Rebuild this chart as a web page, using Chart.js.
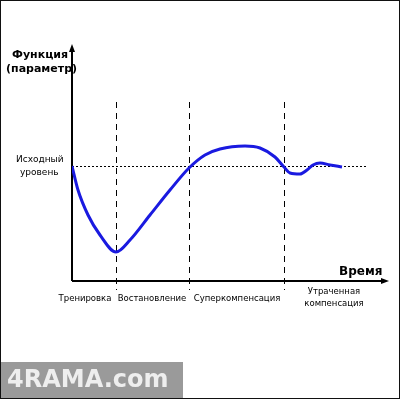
<!DOCTYPE html>
<html><head><meta charset="utf-8">
<script src="https://cdn.jsdelivr.net/npm/chart.js@4"></script>
<style>html,body{margin:0;padding:0;background:#fff}#wrap{width:400px;height:400px;position:relative}</style>
</head><body><div id="wrap"><canvas id="c"></canvas></div>
<script>
// time units and function level
const timeX = [0, 6, 16, 28, 44, 58, 78, 98, 117, 133, 148, 173, 188, 203, 212, 218, 228, 235, 241, 248, 258, 270];
const levelY = [115, 91, 66, 46, 29, 41, 66, 91, 113, 126, 132, 135, 133, 124, 114, 108, 107, 111, 116, 118, 116, 114];
const baseLevel = 115;
const baseEnd = 295;
const phaseLines = [44, 117, 212];
const phaseLabels = [['Тренировка'], ['Востановление'], ['Суперкомпенсация'], ['Утраченная', 'компенсация']];
const phaseLabelX = [13, 80, 165, 262];

const deco = {
  id: 'deco',
  beforeDraw(ch) {
    const c = ch.ctx, x = ch.scales.x, y = ch.scales.y;
    c.save();
    c.fillStyle = '#fff'; c.fillRect(0, 0, 400, 400);
    // baseline dotted
    c.strokeStyle = '#000'; c.lineWidth = 1;
    c.setLineDash([2, 2]);
    c.beginPath(); c.moveTo(x.getPixelForValue(0), y.getPixelForValue(baseLevel) + .5);
    c.lineTo(x.getPixelForValue(baseEnd), y.getPixelForValue(baseLevel) + .5); c.stroke();
    c.setLineDash([6, 5]);
    phaseLines.forEach(v => {
      const px = Math.round(x.getPixelForValue(v)) + .5;
      c.beginPath(); c.moveTo(px, 102); c.lineTo(px, 290); c.stroke();
    });
    c.setLineDash([]);
    // axes with arrows
    const x0 = x.getPixelForValue(0), y0 = y.getPixelForValue(0);
    c.lineWidth = 2;
    c.beginPath(); c.moveTo(x0, y0); c.lineTo(x0, 48); c.moveTo(x0, y0); c.lineTo(385, y0); c.stroke();
    c.fillStyle = '#000';
    c.beginPath(); c.moveTo(x0, 44); c.lineTo(x0 - 3, 52); c.lineTo(x0 + 3, 52); c.fill();
    c.beginPath(); c.moveTo(389, y0); c.lineTo(381, y0 - 3); c.lineTo(381, y0 + 3); c.fill();
    // texts
    c.font = 'bold 11px "DejaVu Sans"'; c.textAlign = 'left'; c.textBaseline = 'middle';
    c.fillText('Функция', 12, 55); c.fillText('(параметр)', 6, 69);
    c.font = 'bold 12px "DejaVu Sans"'; c.fillText('Время', 339, 272);
    c.font = '9px "DejaVu Sans"';
    c.fillText('Исходный', 16, 160); c.fillText('уровень', 20, 173);
    c.textAlign = 'center';
    c.font = '8.5px "DejaVu Sans"';
    phaseLabels.forEach((l, i) => {
      const px = x.getPixelForValue(phaseLabelX[i]);
      if (l.length === 1) c.fillText(l[0], px, 299);
      else { c.fillText(l[0], px, 292); c.fillText(l[1], px, 304); }
    });
    // frame and watermark band
    c.strokeStyle = '#111'; c.lineWidth = 1; c.strokeRect(.5, .5, 399, 398);
    c.fillStyle = '#9a9a9a'; c.fillRect(1, 362, 182, 36);
    c.fillStyle = '#eee'; c.font = 'bold 24px "DejaVu Sans"'; c.textAlign = 'left';
    c.fillText('4RAMA.com', 7, 381);
    c.restore();
  }
};

new Chart(document.getElementById('c'), {
  type: 'line',
  data: { datasets: [{ data: timeX.map((t, i) => ({ x: t, y: levelY[i] })), borderColor: '#1a1ae0', borderWidth: 3, pointRadius: 0, cubicInterpolationMode: 'monotone', fill: false }] },
  options: {
    responsive: true, maintainAspectRatio: false, animation: false,
    layout: { padding: { left: 72, right: 13, top: 55, bottom: 119 } },
    plugins: { legend: { display: false }, tooltip: { enabled: false } },
    scales: {
      x: { type: 'linear', min: 0, max: 315, display: false },
      y: { min: 0, max: 226, display: false }
    }
  },
  plugins: [deco]
});
</script></body></html>
